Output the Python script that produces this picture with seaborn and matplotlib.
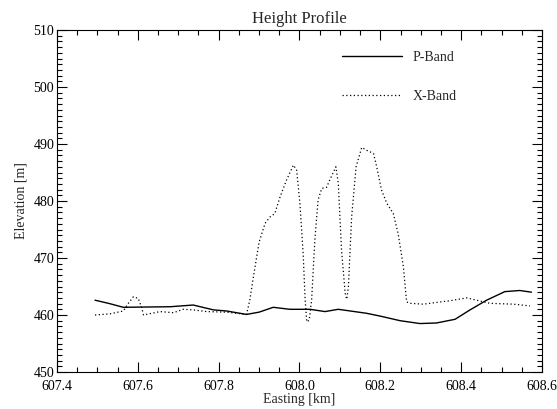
import pandas as pd
import matplotlib
matplotlib.use('Agg')
import matplotlib.pyplot as plt
from matplotlib.ticker import MultipleLocator
import seaborn as sns

# --- Data ---
p_easting = [607.494, 607.53, 607.564, 607.62, 607.68, 607.737, 607.787, 607.82,
             607.869, 607.9, 607.935, 607.976, 608.026, 608.063, 608.096, 608.166,
             608.2, 608.249, 608.298, 608.339, 608.385, 608.422, 608.463, 608.508,
             608.545, 608.574]
p_height = [462.6, 462.0, 461.35, 461.4, 461.45, 461.75, 460.9, 460.7,
            460.1, 460.5, 461.35, 461.0, 461.0, 460.6, 461.0, 460.3,
            459.8, 459.0, 458.5, 458.6, 459.25, 460.9, 462.6, 464.1,
            464.3, 464.0]

x_easting = [607.494, 607.531, 607.564, 607.576, 607.589, 607.601, 607.61, 607.614,
             607.655, 607.688, 607.712, 607.737, 607.77, 607.82, 607.869, 607.877,
             607.886, 607.9, 607.915, 607.927, 607.939, 607.952, 607.968, 607.985,
             607.993, 608.001, 608.009, 608.014, 608.018, 608.024, 608.03, 608.038,
             608.046, 608.055, 608.067, 608.075, 608.09, 608.096, 608.104, 608.113,
             608.117, 608.121, 608.129, 608.14, 608.154, 608.166, 608.183, 608.191,
             608.203, 608.216, 608.232, 608.244, 608.257, 608.265, 608.273, 608.306,
             608.339, 608.372, 608.414, 608.438, 608.471, 608.529, 608.57]
x_height = [460.0, 460.2, 460.7, 462.0, 463.2, 462.9, 461.2, 460.0,
            460.6, 460.4, 461.0, 460.9, 460.6, 460.5, 460.1, 462.6,
            466.7, 472.8, 476.1, 477.2, 477.8, 480.75, 483.7, 486.3,
            485.4, 479.6, 470.8, 462.6, 458.8, 459.1, 462.6, 473.2,
            480.2, 482.2, 482.4, 483.7, 486.0, 483.1, 471.4, 463.8,
            462.75, 465.0, 477.2, 486.0, 489.4, 488.9, 488.35, 486.0,
            481.9, 479.6, 477.8, 474.3, 468.5, 462.3, 462.05, 461.9,
            462.2, 462.5, 463.0, 462.6, 462.05, 461.9, 461.6]

sns.set_theme(style="ticks")
plt.rcParams['font.family'] = ['Liberation Serif', 'DejaVu Serif']
plt.rcParams['axes.unicode_minus'] = False

df_p = pd.DataFrame({'easting': p_easting, 'height': p_height})
df_x = pd.DataFrame({'easting': x_easting, 'height': x_height})

fig, ax = plt.subplots(figsize=(5.57, 4.09), dpi=100)
fig.subplots_adjust(left=57 / 557, right=542 / 557, top=1 - 30 / 409, bottom=1 - 372 / 409)

sns.lineplot(x='easting', y='height', data=df_p, ax=ax, color='black', linewidth=1.0,
             sort=False, estimator=None, label='P-Band')
sns.lineplot(x='easting', y='height', data=df_x, ax=ax, color='black', linewidth=0.9,
             linestyle=(0, (1, 2)), sort=False, estimator=None, label='X-Band')

ax.set_xlim(607.4, 608.6)
ax.set_ylim(450, 510)
ax.xaxis.set_major_locator(MultipleLocator(0.2))
ax.xaxis.set_minor_locator(MultipleLocator(0.05))
ax.yaxis.set_major_locator(MultipleLocator(10))
ax.yaxis.set_minor_locator(MultipleLocator(1))
ax.xaxis.set_major_formatter(plt.FormatStrFormatter('%.1f'))
ax.tick_params(which='both', direction='in', top=True, right=True, colors='black',
               labelsize=10, width=0.8)
ax.tick_params(which='major', length=7)
ax.tick_params(which='minor', length=3.5)
ax.tick_params(axis='x', which='major', pad=6)
ax.tick_params(axis='y', which='major', pad=2)
for s in ax.spines.values():
    s.set_color('black')
    s.set_linewidth(0.8)

ax.set_title('Height Profile', fontsize=12, pad=5)
ax.set_xlabel('Easting [km]', fontsize=10, labelpad=0)
ax.set_ylabel('Elevation [m]', fontsize=10, labelpad=4)

ax.legend(frameon=False, loc='upper left', bbox_to_anchor=(0.588, 0.94),
          borderpad=0, borderaxespad=0, handlelength=4.3, handletextpad=0.8,
          labelspacing=1.9, fontsize=10)

fig.savefig('out.png', dpi=100)
plt.close(fig)
